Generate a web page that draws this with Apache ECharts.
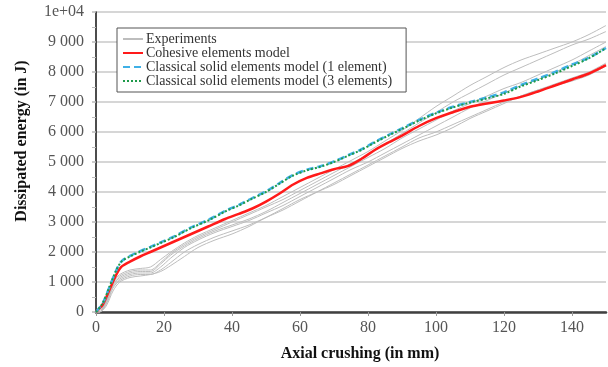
<!DOCTYPE html>
<html>
<head>
<meta charset="utf-8">
<script src="https://cdn.jsdelivr.net/npm/echarts@6/dist/echarts.min.js"></script>
<style>
  html, body { margin: 0; padding: 0; background: #fff; }
  #chart { width: 608px; height: 367px; }
</style>
</head>
<body>
<div id="chart"></div>
<script>
// axial crushing (mm) sample points
const expX = [0, 1, 3, 5, 7, 10, 13, 16, 19, 22, 26, 30, 35, 40, 45, 50, 55, 60, 65, 70, 75, 80, 85, 90, 95, 100, 105, 110, 115, 120, 125, 130, 135, 140, 145, 150];
const exp1 = [0, 0, 450, 1000, 1250, 1400, 1450, 1500, 1750, 2000, 2300, 2550, 2800, 3050, 3300, 3550, 3850, 4150, 4450, 4750, 5050, 5350, 5700, 6050, 6450, 6850, 7200, 7550, 7850, 8150, 8400, 8600, 8800, 9000, 9250, 9550];
const exp2 = [0, 0, 400, 950, 1200, 1350, 1400, 1400, 1650, 1950, 2250, 2500, 2750, 3000, 3250, 3500, 3750, 4050, 4350, 4650, 4950, 5250, 5600, 5950, 6300, 6650, 7000, 7300, 7600, 7900, 8150, 8400, 8650, 8900, 9100, 9350];
const exp3 = [0, 0, 350, 900, 1150, 1300, 1350, 1350, 1600, 1900, 2200, 2450, 2700, 2900, 3100, 3350, 3650, 3950, 4250, 4550, 4850, 5150, 5450, 5800, 6100, 6400, 6700, 6950, 7200, 7450, 7650, 7900, 8150, 8400, 8700, 9000];
const exp4 = [0, 0, 300, 850, 1100, 1250, 1300, 1300, 1500, 1800, 2150, 2400, 2650, 2850, 3050, 3300, 3550, 3850, 4150, 4450, 4750, 5000, 5300, 5600, 5900, 6200, 6500, 6800, 7050, 7300, 7550, 7750, 8000, 8250, 8550, 8850];
const exp5 = [0, 0, 250, 800, 1050, 1200, 1250, 1250, 1400, 1650, 2000, 2250, 2500, 2700, 2900, 3150, 3400, 3700, 4000, 4300, 4600, 4900, 5200, 5500, 5800, 6000, 6250, 6500, 6750, 7000, 7200, 7400, 7600, 7800, 8000, 8300];
const exp6 = [0, 0, 200, 700, 1000, 1150, 1200, 1250, 1350, 1550, 1850, 2150, 2400, 2600, 2850, 3150, 3450, 3750, 4000, 4250, 4550, 4850, 5150, 5450, 5700, 5900, 6150, 6450, 6700, 6950, 7200, 7400, 7550, 7700, 7900, 8200];

const modelX = [0, 2, 4, 6, 7.5, 10, 13, 16, 19, 23, 28, 33, 38, 42, 46, 50, 54, 58, 62, 66, 70, 74, 78, 82, 86, 90, 95, 100, 105, 110, 115, 120, 125, 130, 135, 140, 145, 150];
const cohesive = [0, 250, 750, 1250, 1510, 1680, 1850, 2000, 2150, 2350, 2600, 2850, 3100, 3270, 3450, 3680, 3950, 4250, 4470, 4620, 4760, 4860, 5100, 5400, 5650, 5880, 6200, 6460, 6660, 6840, 6950, 7050, 7170, 7350, 7550, 7750, 7950, 8230];
const solid1 = [0, 300, 850, 1400, 1690, 1870, 2030, 2170, 2320, 2520, 2820, 3070, 3370, 3570, 3800, 4020, 4300, 4570, 4740, 4860, 5020, 5220, 5420, 5670, 5900, 6120, 6400, 6640, 6840, 7000, 7150, 7320, 7570, 7780, 8000, 8250, 8480, 8800];
const solid3 = [0, 300, 850, 1400, 1680, 1850, 2010, 2150, 2300, 2500, 2800, 3050, 3350, 3550, 3780, 4000, 4280, 4550, 4720, 4840, 5000, 5200, 5400, 5650, 5880, 6100, 6380, 6620, 6820, 6980, 7120, 7270, 7520, 7730, 7950, 8200, 8460, 8800];

const yTicks = [0, 1000, 2000, 3000, 4000, 5000, 6000, 7000, 8000, 9000, 10000];

const pairs = (xs, ys) => xs.map((x, i) => [x, ys[i]]);
const serif = '"Liberation Serif", "DejaVu Serif", serif';

const expSeries = [exp1, exp2, exp3, exp4, exp5, exp6].map(ys => ({
  name: 'Experiments',
  type: 'line',
  data: pairs(expX, ys),
  symbol: 'none',
  smooth: 0.3,
  lineStyle: { color: '#bdbdbd', width: 1 },
  itemStyle: { color: '#bdbdbd' },
  z: 1
}));

const fmtY = v => {
  if (v === 10000) return '1e+04';
  return String(v).replace(/\B(?=(\d{3})+(?!\d))/g, ' ');
};

const chart = echarts.init(document.getElementById('chart'));
chart.setOption({
  animation: false,
  backgroundColor: '#fff',
  grid: { left: 96, right: 2, top: 12, bottom: 55 },
  legend: {
    orient: 'vertical',
    left: 117,
    top: 28,
    data: ['Experiments', 'Cohesive elements model', 'Classical solid elements model (1 element)', 'Classical solid elements model (3 elements)'],
    itemWidth: 20,
    itemHeight: 10,
    itemGap: 0,
    itemStyle: { opacity: 0, borderWidth: 0 },
    padding: [4, 14, 4, 5],
    borderColor: '#555',
    borderWidth: 1,
    backgroundColor: '#fff',
    textStyle: { fontFamily: serif, fontSize: 14, color: '#333', lineHeight: 13.5, padding: [0, 0, 0, -2] }
  },
  graphic: [{
    type: 'text',
    x: 22,
    y: 141,
    rotation: Math.PI / 2,
    style: {
      text: 'Dissipated energy (in J)',
      font: 'bold 16px ' + serif,
      fill: '#111',
      align: 'center',
      verticalAlign: 'middle'
    }
  }],
  xAxis: {
    type: 'value',
    min: 0,
    max: 150,
    interval: 20,
    name: 'Axial crushing (in mm)',
    nameLocation: 'middle',
    nameGap: 34,
    nameTextStyle: { fontFamily: serif, fontSize: 16, fontWeight: 'bold', color: '#111', padding: [0, 0, 0, 18] },
    axisLine: { onZero: false, lineStyle: { color: '#404040', width: 2.5 } },
    axisTick: { show: true, length: 4, lineStyle: { color: '#999' } },
    axisLabel: { fontFamily: serif, fontSize: 16, color: '#555', margin: 8, showMaxLabel: false },
    splitLine: { show: false }
  },
  yAxis: {
    type: 'value',
    min: yTicks[0],
    max: yTicks[yTicks.length - 1],
    interval: 1000,
    axisLine: { show: true, lineStyle: { color: '#111', width: 1.5 } },
    axisTick: { show: true, length: 4, lineStyle: { color: '#bbb', width: 1.5 } },
    minorTick: { show: true, splitNumber: 2, length: 4, lineStyle: { color: '#bbb' } },
    axisLabel: { fontFamily: serif, fontSize: 16, color: '#555', margin: 12, formatter: fmtY },
    splitLine: { show: true, lineStyle: { color: '#c8c8c8', width: 1.5 } }
  },
  series: [
    ...expSeries,
    {
      name: 'Cohesive elements model',
      type: 'line',
      data: pairs(modelX, cohesive),
      symbol: 'none',
      smooth: 0.3,
      lineStyle: { color: '#ff1a1a', width: 2.5 },
      itemStyle: { color: '#ff1a1a' },
      z: 3
    },
    {
      name: 'Classical solid elements model (1 element)',
      type: 'line',
      data: pairs(modelX, solid1),
      symbol: 'none',
      smooth: 0.3,
      lineStyle: { color: '#3fb0e6', width: 2.5, type: [7, 4] },
      itemStyle: { color: '#3fb0e6' },
      z: 4
    },
    {
      name: 'Classical solid elements model (3 elements)',
      type: 'line',
      data: pairs(modelX, solid3),
      symbol: 'none',
      smooth: 0.3,
      lineStyle: { color: '#1e9a4a', width: 2, type: [2, 2] },
      itemStyle: { color: '#1e9a4a' },
      z: 5
    }
  ]
});
</script>
</body>
</html>
